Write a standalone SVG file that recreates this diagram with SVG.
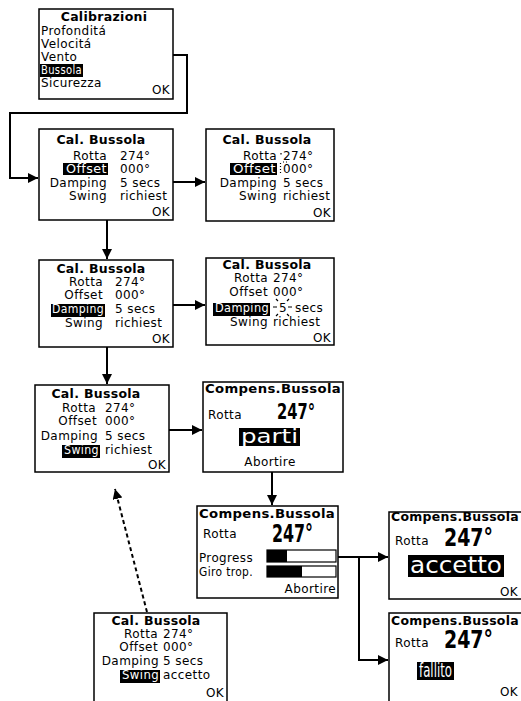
<svg xmlns="http://www.w3.org/2000/svg" width="521" height="701" viewBox="0 0 521 701">
<style>
.bx{fill:#fff;stroke:#000;stroke-width:1.5}
.t{font-family:"DejaVu Sans","Liberation Sans",sans-serif;font-size:12px;letter-spacing:0.4px;fill:#000}
.b{font-family:"DejaVu Sans","Liberation Sans",sans-serif;font-size:12.5px;font-weight:bold;letter-spacing:0.3px;fill:#000}
.big{font-family:"DejaVu Sans Condensed","DejaVu Sans",sans-serif;font-weight:bold;fill:#000}
.lg{font-family:"DejaVu Sans","Liberation Sans",sans-serif;fill:#fff}
.w{fill:#fff}
.e{text-anchor:end}
.m{text-anchor:middle}
.hl{fill:#000}
.ln{fill:none;stroke:#000;stroke-width:2}
.sp{fill:none;stroke:#000;stroke-width:1.2}
.bar{fill:#fff;stroke:#000;stroke-width:1.2}
</style>
<defs>
<marker id="ah" viewBox="0 0 10 10" refX="10" refY="5" markerWidth="5" markerHeight="5" orient="auto" markerUnits="strokeWidth">
<path d="M0,0 L10,5 L0,10 Z" fill="#000"/>
</marker>
</defs>

<g id="connectors">
<path class="ln" d="M173,55 H187 V113 H10 V178 H38" marker-end="url(#ah)"/>
<path class="ln" d="M173,182 H205" marker-end="url(#ah)"/>
<path class="ln" d="M107,220 V259" marker-end="url(#ah)"/>
<path class="ln" d="M173,305 H205" marker-end="url(#ah)"/>
<path class="ln" d="M107,347 V384" marker-end="url(#ah)"/>
<path class="ln" d="M168,430 H202" marker-end="url(#ah)"/>
<path class="ln" d="M272,472 V505" marker-end="url(#ah)"/>
<path class="ln" d="M338,557 H388" marker-end="url(#ah)"/>
<path class="ln" d="M359,557 V660 H388" marker-end="url(#ah)"/>
<path class="ln" d="M147,612 L115,489" stroke-dasharray="4,3" marker-end="url(#ah)"/>
</g>

<g id="calibrazioni">
<rect class="bx" x="39" y="9" width="134" height="90"/>
<text class="b m" x="104" y="21">Calibrazioni</text>
<text class="t" x="41" y="35">Profonditá</text>
<text class="t" x="41" y="48">Velocitá</text>
<text class="t" x="41" y="61">Vento</text>
<rect class="hl" x="40" y="64" width="43" height="13"/>
<text class="t w" x="41" y="74" textLength="41" lengthAdjust="spacingAndGlyphs">Bussola</text>
<text class="t" x="41" y="87">Sicurezza</text>
<text class="t e" x="170" y="94">OK</text>
</g>

<g id="cal-offset">
<rect class="bx" x="39" y="129" width="134" height="91"/>
<text class="b m" x="101" y="144">Cal. Bussola</text>
<text class="t e" x="107" y="160">Rotta</text><text class="t" x="120" y="160">274°</text>
<rect class="hl" x="63" y="163" width="45" height="12"/>
<text class="t e w" x="107" y="173" textLength="41" lengthAdjust="spacingAndGlyphs">Offset</text><text class="t" x="120" y="173">000°</text>
<text class="t e" x="107" y="187">Damping</text><text class="t" x="120" y="187">5 secs</text>
<text class="t e" x="107" y="200">Swing</text><text class="t" x="120" y="200">richiest</text>
<text class="t e" x="170" y="216">OK</text>
</g>

<g id="cal-offset-edit">
<rect class="bx" x="206" y="129" width="128" height="92"/>
<text class="b m" x="267" y="144">Cal. Bussola</text>
<text class="t e" x="277" y="160">Rotta</text><text class="t" x="283" y="160">274°</text>
<path class="sp" d="M281,153 v1.5"/>
<rect class="hl" x="230" y="163" width="47" height="12"/>
<text class="t e w" x="276" y="173" textLength="43" lengthAdjust="spacingAndGlyphs">Offset</text><text class="t" x="283" y="173">000°</text>
<path class="sp" d="M280.5,163 v1 M280.5,166 v1 M280.5,169 v1 M280.5,172 v1 M283,162 h1 M286,162 h1"/>
<text class="t e" x="277" y="187">Damping</text><text class="t" x="283" y="187">5 secs</text>
<text class="t e" x="277" y="200">Swing</text><text class="t" x="283" y="200">richiest</text>
<text class="t e" x="331" y="217">OK</text>
</g>

<g id="cal-damping">
<rect class="bx" x="39" y="260" width="134" height="87"/>
<text class="b m" x="101" y="273">Cal. Bussola</text>
<text class="t e" x="103" y="286">Rotta</text><text class="t" x="115" y="286">274°</text>
<text class="t e" x="103" y="299">Offset</text><text class="t" x="115" y="299">000°</text>
<rect class="hl" x="51" y="304" width="54" height="13"/>
<text class="t e w" x="104" y="313" textLength="52" lengthAdjust="spacingAndGlyphs">Damping</text><text class="t" x="115" y="313">5 secs</text>
<text class="t e" x="103" y="327">Swing</text><text class="t" x="115" y="327">richiest</text>
<text class="t e" x="170" y="343">OK</text>
</g>

<g id="cal-damping-edit">
<rect class="bx" x="206" y="258" width="128" height="87"/>
<text class="b m" x="267" y="269">Cal. Bussola</text>
<text class="t e" x="268" y="282">Rotta</text><text class="t" x="273" y="282">274°</text>
<text class="t e" x="268" y="296">Offset</text><text class="t" x="273" y="296">000°</text>
<rect class="hl" x="213" y="303" width="57" height="13"/>
<text class="t e w" x="269" y="312" textLength="54" lengthAdjust="spacingAndGlyphs">Damping</text>
<text class="t" x="279" y="312">5</text><text class="t" x="295" y="312">secs</text>
<path class="sp" d="M273,307 h4 M288,307 h4 M278,301 l-2,-2 M287,301 l2,-2 M278,314 l-2,2 M287,314 l2,2"/>
<text class="t e" x="268" y="326">Swing</text><text class="t" x="273" y="326">richiest</text>
<text class="t e" x="331" y="342">OK</text>
</g>

<g id="cal-swing">
<rect class="bx" x="35" y="385" width="134" height="87"/>
<text class="b m" x="96" y="398">Cal. Bussola</text>
<text class="t e" x="96" y="412">Rotta</text><text class="t" x="105" y="412">274°</text>
<text class="t e" x="97" y="425">Offset</text><text class="t" x="105" y="425">000°</text>
<text class="t e" x="98" y="440">Damping</text><text class="t" x="105" y="440">5 secs</text>
<rect class="hl" x="62" y="445" width="38" height="13"/>
<text class="t e w" x="99" y="454" textLength="35" lengthAdjust="spacingAndGlyphs">Swing</text><text class="t" x="105" y="454">richiest</text>
<text class="t e" x="166" y="469">OK</text>
</g>

<g id="compens-parti">
<rect class="bx" x="203" y="382" width="140" height="90"/>
<text class="b" x="205" y="393" textLength="136" lengthAdjust="spacingAndGlyphs">Compens.Bussola</text>
<text class="t" x="208" y="419">Rotta</text>
<text class="big" x="277" y="419" style="font-size:22px" textLength="38" lengthAdjust="spacingAndGlyphs">247°</text>
<rect class="hl" x="239" y="428" width="61" height="18"/>
<text class="lg" x="241" y="443" style="font-size:20px" textLength="57" lengthAdjust="spacingAndGlyphs">parti</text>
<text class="t m" x="270" y="466">Abortire</text>
</g>

<g id="compens-progress">
<rect class="bx" x="197" y="506" width="141" height="92"/>
<text class="b" x="199" y="518" textLength="136" lengthAdjust="spacingAndGlyphs">Compens.Bussola</text>
<text class="t" x="203" y="538">Rotta</text>
<text class="big" x="272" y="542" style="font-size:25px" textLength="41" lengthAdjust="spacingAndGlyphs">247°</text>
<text class="t" x="199" y="562" textLength="54" lengthAdjust="spacingAndGlyphs">Progress</text>
<rect class="bar" x="267" y="550" width="69" height="12"/>
<rect class="hl" x="267" y="550" width="20" height="12"/>
<text class="t" x="199" y="576" textLength="54" lengthAdjust="spacingAndGlyphs">Giro trop.</text>
<rect class="bar" x="267" y="566" width="69" height="11"/>
<rect class="hl" x="267" y="566" width="35" height="11"/>
<text class="t e" x="336" y="593">Abortire</text>
</g>

<g id="compens-accetto">
<rect class="bx" x="389" y="512" width="135" height="87"/>
<text class="b" x="391" y="521" textLength="128" lengthAdjust="spacingAndGlyphs">Compens.Bussola</text>
<text class="t" x="395" y="545">Rotta</text>
<text class="big" x="444" y="546" style="font-size:24px" textLength="49" lengthAdjust="spacingAndGlyphs">247°</text>
<rect class="hl" x="408" y="555" width="96" height="22"/>
<text class="lg" x="410" y="573" style="font-size:23px" textLength="92" lengthAdjust="spacingAndGlyphs">accetto</text>
<text class="t e" x="518" y="596">OK</text>
</g>

<g id="compens-fallito">
<rect class="bx" x="389" y="613" width="135" height="95"/>
<text class="b" x="391" y="625" textLength="128" lengthAdjust="spacingAndGlyphs">Compens.Bussola</text>
<text class="t" x="395" y="647">Rotta</text>
<text class="big" x="444" y="648" style="font-size:24px" textLength="49" lengthAdjust="spacingAndGlyphs">247°</text>
<rect class="hl" x="417" y="662" width="37" height="18"/>
<text class="lg" x="419" y="677" style="font-size:20px" textLength="33" lengthAdjust="spacingAndGlyphs">fallito</text>
<text class="t e" x="518" y="696">OK</text>
</g>

<g id="cal-swing-accetto">
<rect class="bx" x="94" y="613" width="133" height="95"/>
<text class="b m" x="156" y="625">Cal. Bussola</text>
<text class="t e" x="158" y="638">Rotta</text><text class="t" x="163" y="638">274°</text>
<text class="t e" x="158" y="651">Offset</text><text class="t" x="163" y="651">000°</text>
<text class="t e" x="159" y="665">Damping</text><text class="t" x="163" y="665">5 secs</text>
<rect class="hl" x="120" y="670" width="40" height="13"/>
<text class="t e w" x="159" y="679" textLength="37" lengthAdjust="spacingAndGlyphs">Swing</text><text class="t" x="163" y="679">accetto</text>
<text class="t e" x="224" y="697">OK</text>
</g>
</svg>
